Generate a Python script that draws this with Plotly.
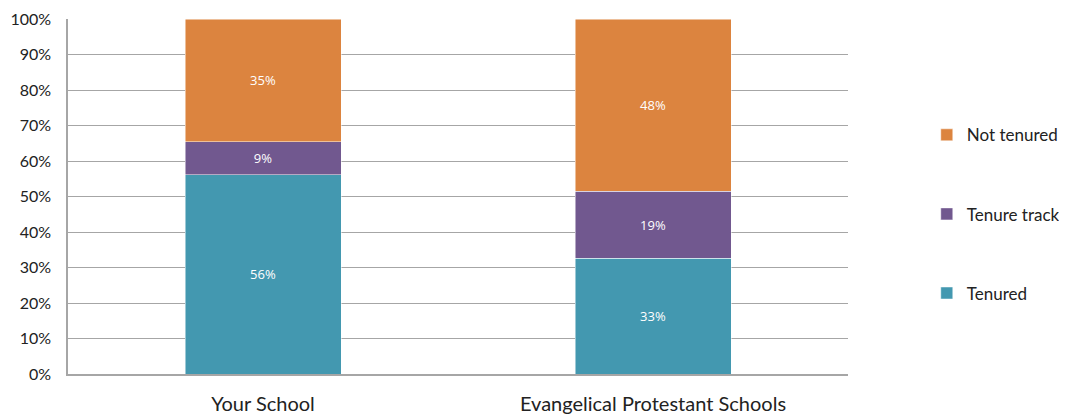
import plotly.graph_objects as go

categories = ["Your School", "Evangelical Protestant Schools"]
tenured = [56.1, 32.6]
tenure_track = [9.3, 18.9]
not_tenured = [34.6, 48.5]
tenured_labels = ["56%", "33%"]
track_labels = ["9%", "19%"]
not_labels = ["35%", "48%"]

colors = {"Tenured": "#4398B0", "Tenure track": "#71588F", "Not tenured": "#DC843F"}

fig = go.Figure()
for rank, (name, vals, labs) in zip([3, 2, 1], [("Tenured", tenured, tenured_labels),
                                               ("Tenure track", tenure_track, track_labels),
                                               ("Not tenured", not_tenured, not_labels)]):
    fig.add_trace(go.Bar(
        x=categories, y=vals, name=name, text=labs,
        textposition="inside", insidetextanchor="middle",
        textfont=dict(color="white", size=13, family="Open Sans"),
        marker=dict(color=colors[name], line=dict(color="rgba(255,255,255,0.6)", width=0.8)),
        legendgroup=name, legendrank=rank, hoverinfo="skip",
    ))

# page body has an 8px margin, so the figure is sized to fit the window
fig.update_layout(
    barmode="stack", bargap=0.6,
    width=1059, height=406,
    margin=dict(l=60, r=219, t=11, b=40, autoexpand=False),
    plot_bgcolor="white", paper_bgcolor="white",
    font=dict(family="Lato", color="#222222"),
    legend=dict(x=1.101, y=0.45, xanchor="left", yanchor="middle",
                traceorder="grouped", tracegroupgap=54,
                font=dict(size=17, family="Lato"), itemwidth=30),
    xaxis=dict(showline=True, linecolor="#A6A6A6", linewidth=1.5,
               tickfont=dict(size=20, family="Lato"), ticks="",
               ticklabelstandoff=11),
    yaxis=dict(range=[0, 100], dtick=10, ticksuffix="%", showgrid=True,
               gridcolor="#A6A6A6", gridwidth=1, showline=True,
               linecolor="#A6A6A6", linewidth=1.5, zeroline=False,
               tickfont=dict(size=16, family="Lato"), ticks="",
               ticklabelstandoff=12),
)
fig.write_html("out.html")
